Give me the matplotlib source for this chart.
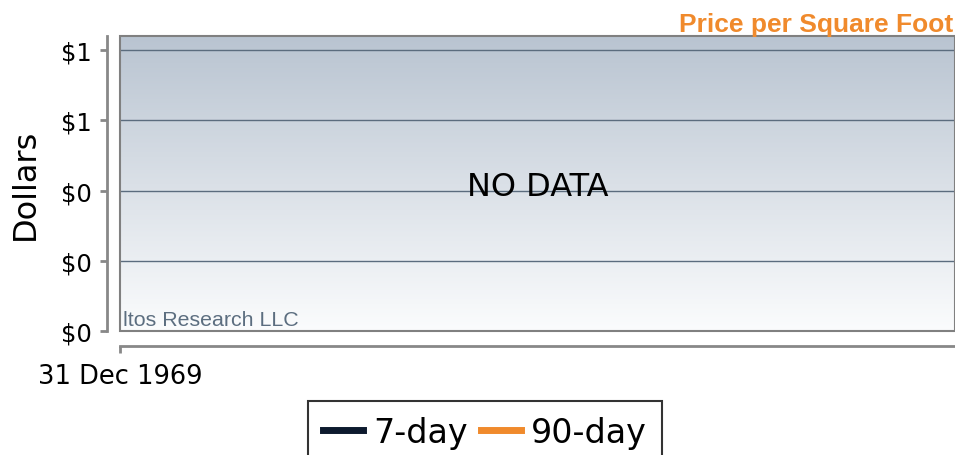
import numpy as np
import matplotlib
matplotlib.use('Agg')
import matplotlib.pyplot as plt
from matplotlib.colors import LinearSegmentedColormap
from matplotlib.patches import Rectangle

# dados (o gráfico não tem pontos: "NO DATA")
datas_7d = []
valores_7d = []
datas_90d = []
valores_90d = []
series = ['7-day', '90-day']
y_ticks = [0, 0.25, 0.5, 0.75, 1.0]
y_labels = ['$0', '$0', '$0', '$1', '$1']
x_ticks = [0]
x_labels = ['31 Dec 1969']

fig = plt.figure(figsize=(9.55, 4.56), dpi=100)
ax = fig.add_axes([120 / 955, (456 - 332) / 456, 835 / 955, 295 / 456])

# fundo em degradê
cmap = LinearSegmentedColormap.from_list('fundo', ['#fbfcfd', '#b9c4d1'])
grad = np.linspace(0, 1, 256)[:, None]
ax.imshow(grad, extent=[0, 1, 0, 1], transform=ax.transAxes, aspect='auto',
          cmap=cmap, origin='lower', zorder=0)

ax.plot(datas_7d, valores_7d, color='#0d1a2e', lw=4, label=series[0])
ax.plot(datas_90d, valores_90d, color='#f08a2c', lw=4, label=series[1])

ax.set_xlim(0, 1)
ax.set_ylim(0, 1.05)

for v in y_ticks:
    ax.axhline(v, color='#5b6c7e', lw=1, zorder=1)

ax.add_patch(Rectangle((0, 0), 1, 1, transform=ax.transAxes, fill=False,
                       edgecolor='#808080', lw=1.5, clip_on=False, zorder=3))

ax.spines['top'].set_visible(False)
ax.spines['right'].set_visible(False)
ax.spines['left'].set_position(('outward', 9.4))
ax.spines['bottom'].set_position(('outward', 10.8))
for s in ['left', 'bottom']:
    ax.spines[s].set_color('#888888')
    ax.spines[s].set_linewidth(2)

ax.set_yticks(y_ticks)
ax.set_yticklabels(y_labels)
ax.set_xticks(x_ticks)
ax.set_xticklabels(x_labels)
ax.tick_params(axis='both', colors='#888888', width=2, length=5,
               labelcolor='black')
ax.tick_params(axis='y', pad=6, labelsize=17.5)
ax.tick_params(axis='x', pad=7, labelsize=18.5)

ax.set_ylabel('Dollars', fontsize=23, labelpad=14)

ax.text(0.5, 0.49, 'NO DATA', transform=ax.transAxes, ha='center', va='center',
        fontsize=23, color='black', zorder=4)
ax.text(0.003, 0.008, 'ltos Research LLC', transform=ax.transAxes, ha='left',
        va='bottom', fontsize=15.4, color='#5c6e80', family='Liberation Sans', zorder=4)

fig.text(953 / 955, 1 - 25 / 456, 'Price per Square Foot', ha='right', va='center',
         fontsize=19, fontweight='bold', color='#f08a2c', family='Liberation Sans')

leg = fig.legend(loc='upper center', bbox_to_anchor=(485 / 955, 1 - 402 / 456),
                 ncol=2, fontsize=24, frameon=True, fancybox=False,
                 edgecolor='black', handlelength=1.2, columnspacing=0.4,
                 handletextpad=0.3, borderpad=0.45, borderaxespad=0)
leg.get_frame().set_linewidth(1.5)
for h in leg.get_lines():
    h.set_linewidth(5)

plt.savefig('out.png', dpi=100)
